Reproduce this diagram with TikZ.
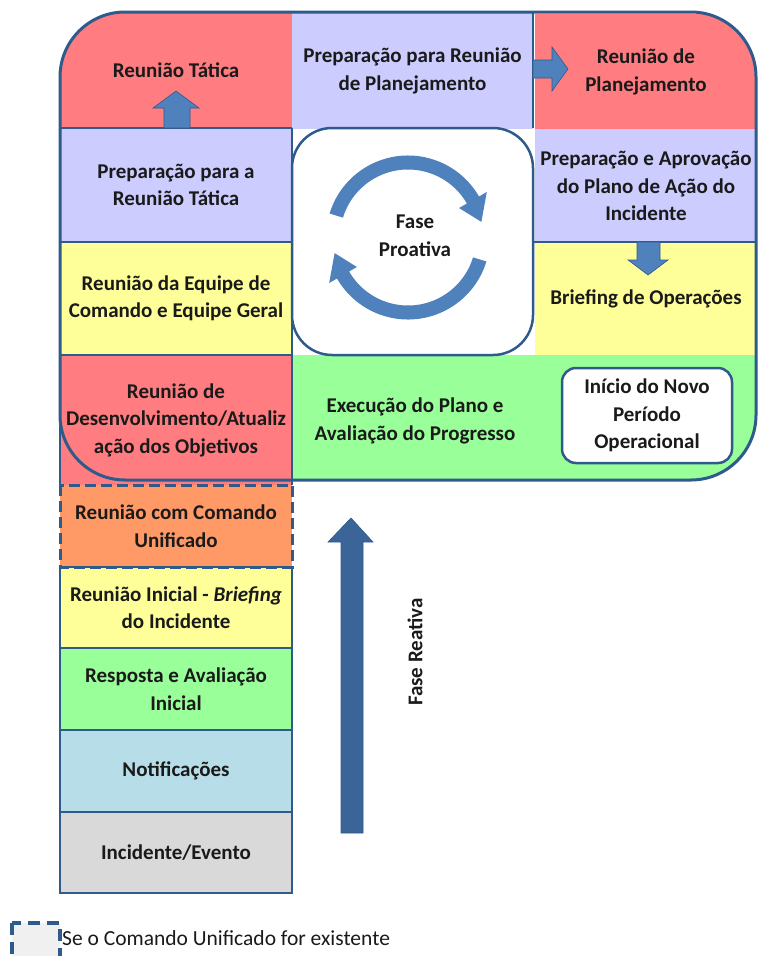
\documentclass[tikz,border=0pt]{standalone}
\usepackage{fontspec}
\setmainfont{Carlito}
\definecolor{vermelho}{HTML}{FF7C80}
\definecolor{lilas}{HTML}{CCCCFF}
\definecolor{amarelo}{HTML}{FFFF99}
\definecolor{verde}{HTML}{99FF99}
\definecolor{laranja}{HTML}{FF9966}
\definecolor{azulclaro}{HTML}{B7DEE8}
\definecolor{cinza}{HTML}{D9D9D9}
\definecolor{borda}{HTML}{2F5A8C}
\definecolor{azulseta}{HTML}{4F81BD}
\definecolor{setaescura}{HTML}{3B6598}
\definecolor{texto}{HTML}{1A1A1A}

\begin{document}
\begin{tikzpicture}[x=1pt,y=-1pt,
  celula/.style={inner sep=0pt, align=center, text=texto, font=\fontsize{21}{27.5}\selectfont\bfseries},
  linha/.style={draw=borda, line width=2pt},
  seta/.style={fill=azulseta, draw=borda, line width=0.6pt}]
\useasboundingbox (0,0) rectangle (758,956);

% Células da fase proativa
\begin{scope}
\clip[rounded corners=65] (60,12) rectangle (756,480) [sharp corners] (60,355) rectangle (292,485);
\node[celula, fill=vermelho, minimum width=232, minimum height=116] (tatica) at (176,70) {Reunião Tática};
\node[celula, fill=lilas, minimum width=241, minimum height=116] (prepplan) at (412.5,71) {Preparação para Reunião\\de Planejamento};
\node[celula, fill=vermelho, minimum width=223, minimum height=116] (planejamento) at (646,72) {Reunião de\\Planejamento};
\node[celula, fill=lilas, minimum width=232, minimum height=114] (preptatica) at (176,185) {Preparação para a\\Reunião Tática};
\node[celula, fill=lilas, minimum width=223, minimum height=114] (aprovacao) at (646,186) {Preparação e Aprovação\\do Plano de Ação do\\Incidente};
\node[celula, fill=amarelo, minimum width=232, minimum height=113] (equipe) at (176,298.5) {Reunião da Equipe de\\Comando e Equipe Geral};
\node[celula, fill=amarelo, minimum width=223, minimum height=113] (briefing) at (646,299) {Briefing de Operações};
\node[celula, fill=vermelho, minimum width=232, minimum height=130] (objetivos) at (176,420) {Reunião de\\Desenvolvimento/Atualiz\\ação dos Objetivos};
\fill[verde] (292,355) rectangle (756,480);
\end{scope}

% Divisões
\foreach \y in {128,242,355} \draw[linha] (60,\y) -- (292,\y);
\draw[linha] (60,128) -- (60,485);
\draw[linha] (292,128) -- (292,485);
\draw[linha] (533,12) -- (533,128);
\draw[linha] (533,242) -- (756,242);

% Borda externa
\draw[borda, line width=3pt, rounded corners=65] (60,12) rectangle (756,480);

% Quadro central
\draw[borda, line width=2.5pt, fill=white, rounded corners=40] (292,128) rectangle (533,355);
\node[celula] (fase) at (415,236) {Fase\\Proativa};

% Setas circulares
\begin{scope}[shift={(408,237.5)}, y=1pt]
\fill[azulseta] (163:82) arc[start angle=163, end angle=30, radius=82] -- (30:91) -- (12:75) -- (30:59) -- (30:68) arc[start angle=30, end angle=163, radius=68] -- cycle;
\fill[azulseta] (-17:82) arc[start angle=-17, end angle=-150, radius=82] -- (-150:91) -- (-168:75) -- (-150:59) -- (-150:68) arc[start angle=-150, end angle=-17, radius=68] -- cycle;
\end{scope}

% Execução e novo período
\node[celula] (execucao) at (415,421) {Execução do Plano e\\Avaliação do Progresso};
\node[celula, draw=borda, line width=2.5pt, fill=white, rounded corners=14, minimum width=170, minimum height=95] (inicio) at (647,415.5) {Início do Novo\\Período\\Operacional};

% Setas entre células
\filldraw[seta] (164,128) -- (164,108) -- (153,108) -- (176,91) -- (199,108) -- (190,108) -- (190,128) -- cycle;
\filldraw[seta] (533,60) -- (552,60) -- (552,47) -- (568,69) -- (552,91) -- (552,78) -- (533,78) -- cycle;
\filldraw[seta] (637,242) -- (637,260) -- (628,260) -- (648,275) -- (668,260) -- (660,260) -- (660,242) -- cycle;

% Fase reativa
\node[celula, fill=laranja, minimum width=232, minimum height=82] (unificado) at (176,526) {Reunião com Comando\\Unificado};
\node[celula, fill=amarelo, minimum width=232, minimum height=81] (inicial) at (176,607.5) {Reunião Inicial - \textit{Briefing}\\do Incidente};
\node[celula, fill=verde, minimum width=232, minimum height=82] (resposta) at (176,689) {Resposta e Avaliação\\Inicial};
\node[celula, fill=azulclaro, minimum width=232, minimum height=82] (notificacoes) at (176,771) {Notificações};
\node[celula, fill=cinza, minimum width=232, minimum height=81] (incidente) at (176,852.5) {Incidente/Evento};
\draw[linha] (60,567) rectangle (292,893);
\foreach \y in {648,730,812} \draw[linha] (60,\y) -- (292,\y);
\draw[borda, line width=3pt, dash pattern=on 11pt off 5pt] (60,485) rectangle (292,567);

% Seta grande
\filldraw[seta, fill=setaescura] (341,833) -- (341,542) -- (328,542) -- (351,518) -- (373,542) -- (363,542) -- (363,833) -- cycle;
\node[celula, rotate=90] (reativa) at (415,652) {Fase Reativa};

% Legenda
\draw[borda, line width=3.5pt, dash pattern=on 12pt off 7pt, fill=gray!12] (12,923) rectangle (60,965);
\node[anchor=base west, inner sep=0pt, text=texto, font=\fontsize{21.5}{28}\selectfont] (legenda) at (62,945) {Se o Comando Unificado for existente};
\end{tikzpicture}
\end{document}
